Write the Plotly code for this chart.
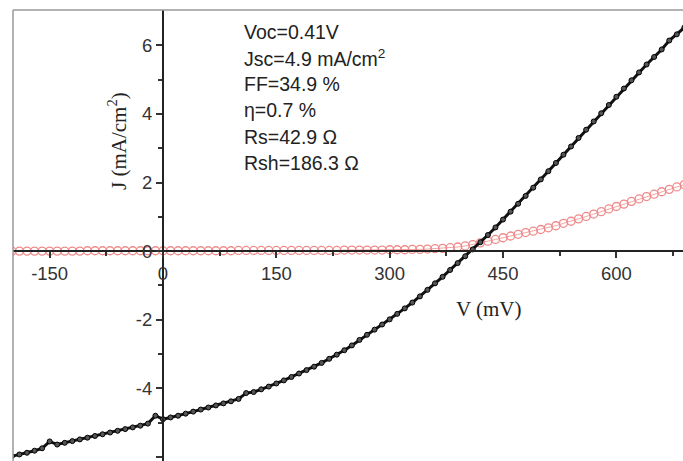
import plotly.graph_objects as go

# Voltage grid (mV)
V = [-200, -190, -180, -170, -160, -150, -140, -130, -120, -110,
     -100, -90, -80, -70, -60, -50, -40, -30, -20, -10,
     0, 10, 20, 30, 40, 50, 60, 70, 80, 90,
     100, 110, 120, 130, 140, 150, 160, 170, 180, 190,
     200, 210, 220, 230, 240, 250, 260, 270, 280, 290,
     300, 310, 320, 330, 340, 350, 360, 370, 380, 390,
     400, 410, 420, 430, 440, 450, 460, 470, 480, 490,
     500, 510, 520, 530, 540, 550, 560, 570, 580, 590,
     600, 610, 620, 630, 640, 650, 660, 670, 680, 690]

# Illuminated J (mA/cm^2)
J_light = [-5.98, -5.93, -5.88, -5.82, -5.75, -5.55, -5.64, -5.59, -5.54, -5.49,
           -5.44, -5.39, -5.34, -5.29, -5.24, -5.19, -5.14, -5.09, -5.03, -4.80,
           -4.90, -4.85, -4.80, -4.74, -4.68, -4.62, -4.56, -4.50, -4.44, -4.38,
           -4.31, -4.14, -4.11, -4.03, -3.95, -3.86, -3.77, -3.67, -3.57, -3.47,
           -3.37, -3.26, -3.14, -3.02, -2.89, -2.75, -2.59, -2.44, -2.29, -2.14,
           -1.99, -1.83, -1.67, -1.50, -1.32, -1.13, -0.94, -0.75, -0.55, -0.35,
           -0.15, 0.05, 0.26, 0.47, 0.69, 0.92, 1.15, 1.38, 1.61, 1.85,
           2.09, 2.33, 2.57, 2.81, 3.05, 3.30, 3.54, 3.78, 4.02, 4.26,
           4.50, 4.74, 4.98, 5.21, 5.44, 5.66, 5.88, 6.14, 6.32, 6.52]

# Dark J (mA/cm^2)
J_dark = [0.00, 0.00, 0.00, 0.00, 0.00, 0.00, 0.00, 0.00, 0.00, 0.00,
          0.01, 0.01, 0.01, 0.01, 0.01, 0.01, 0.01, 0.01, 0.01, 0.01,
          0.01, 0.01, 0.01, 0.01, 0.01, 0.01, 0.01, 0.01, 0.01, 0.01,
          0.02, 0.02, 0.02, 0.02, 0.02, 0.02, 0.02, 0.02, 0.02, 0.02,
          0.02, 0.02, 0.02, 0.02, 0.03, 0.03, 0.03, 0.03, 0.03, 0.03,
          0.04, 0.04, 0.04, 0.05, 0.05, 0.06, 0.07, 0.08, 0.10, 0.12,
          0.15, 0.19, 0.24, 0.29, 0.34, 0.39, 0.44, 0.49, 0.54, 0.58,
          0.63, 0.68, 0.74, 0.81, 0.87, 0.94, 1.01, 1.08, 1.15, 1.23,
          1.30, 1.37, 1.45, 1.52, 1.59, 1.66, 1.73, 1.80, 1.87, 1.94]

x_ticks = [-150, 0, 150, 300, 450, 600]
x_tick_labels = ["-150", "0", "150", "300", "450", "600"]
y_ticks = [-6, -4, -2, 0, 2, 4, 6]
y_tick_labels = ["-6", "-4", "-2", "0", "2", "4", "6"]

params = ["Voc=0.41V", "Jsc=4.9 mA/cm<sup>2</sup>", "FF=34.9 %",
          "\u03b7=0.7 %", "Rs=42.9 \u03a9", "Rsh=186.3 \u03a9"]

X_RANGE = [-198.5, 688.2]
Y_RANGE = [-6.12, 7.03]

fig = go.Figure()
fig.add_trace(go.Scatter(
    x=V, y=J_dark, mode="lines+markers",
    line=dict(color="#f4a6a6", width=1),
    marker=dict(symbol="circle-open", size=8, color="#ef8a8a", line=dict(width=1.3)),
    showlegend=False, cliponaxis=True))
fig.add_trace(go.Scatter(
    x=V, y=J_light, mode="lines+markers",
    line=dict(color="#111111", width=3),
    marker=dict(symbol="circle", size=5, color="#555555", line=dict(color="#000000", width=1)),
    showlegend=False, cliponaxis=True))

xpos = (0 - Y_RANGE[0]) / (Y_RANGE[1] - Y_RANGE[0])
ypos = (0 - X_RANGE[0]) / (X_RANGE[1] - X_RANGE[0])

tickfont = dict(family="Liberation Sans, Arial, sans-serif", size=18.5, color="#333")

fig.update_layout(
    width=683, height=461,
    margin=dict(l=13, r=0, t=10, b=0),
    paper_bgcolor="white", plot_bgcolor="white",
    font=dict(family="Liberation Sans, Arial, sans-serif", size=16, color="#333333"),
    xaxis=dict(range=X_RANGE, anchor="free", position=xpos,
               tickvals=x_ticks, ticktext=x_tick_labels,
               ticks="outside", ticklen=6, tickwidth=1.5, tickcolor="#333",
               showline=True, linecolor="#222", linewidth=2, showgrid=False, zeroline=False,
               minor=dict(tickvals=[-75, 75, 225, 375, 525, 675], ticks="outside",
                          ticklen=4, tickwidth=1.5, tickcolor="#333"),
               tickfont=tickfont),
    yaxis=dict(range=Y_RANGE, anchor="free", position=ypos,
               tickvals=y_ticks, ticktext=y_tick_labels,
               ticks="outside", ticklen=6, tickwidth=1.5, tickcolor="#333",
               showline=True, linecolor="#222", linewidth=2, showgrid=False, zeroline=False,
               minor=dict(tickvals=[-5, -3, -1, 1, 3, 5], ticks="outside",
                          ticklen=4, tickwidth=1.5, tickcolor="#333"),
               tickfont=tickfont),
    shapes=[
        dict(type="line", xref="paper", yref="paper", x0=0, x1=0, y0=0, y1=1,
             line=dict(color="#999999", width=1.5)),
        dict(type="line", xref="paper", yref="paper", x0=0, x1=1, y0=1, y1=1,
             line=dict(color="#999999", width=1.5)),
    ],
)

annotations = []
for i, t in enumerate(params):
    annotations.append(dict(x=105, y=6.38 - i * 0.76, xref="x", yref="y", text=t,
                            showarrow=False, xanchor="left", yanchor="middle",
                            font=dict(family="Liberation Sans, Arial, sans-serif", size=19.5, color="#222")))
annotations.append(dict(x=431, y=-1.68, xref="x", yref="y", text="V (mV)", showarrow=False,
                        xanchor="center", yanchor="middle",
                        font=dict(family="Liberation Serif, Times New Roman, serif", size=21, color="#222")))
annotations.append(dict(x=-60, y=3.2, xref="x", yref="y", text="J (mA/cm<sup>2</sup>)",
                        showarrow=False, textangle=-90, xanchor="center", yanchor="middle",
                        font=dict(family="Liberation Serif, Times New Roman, serif", size=21, color="#222")))
fig.update_layout(annotations=annotations)

fig.write_html("out.html")
